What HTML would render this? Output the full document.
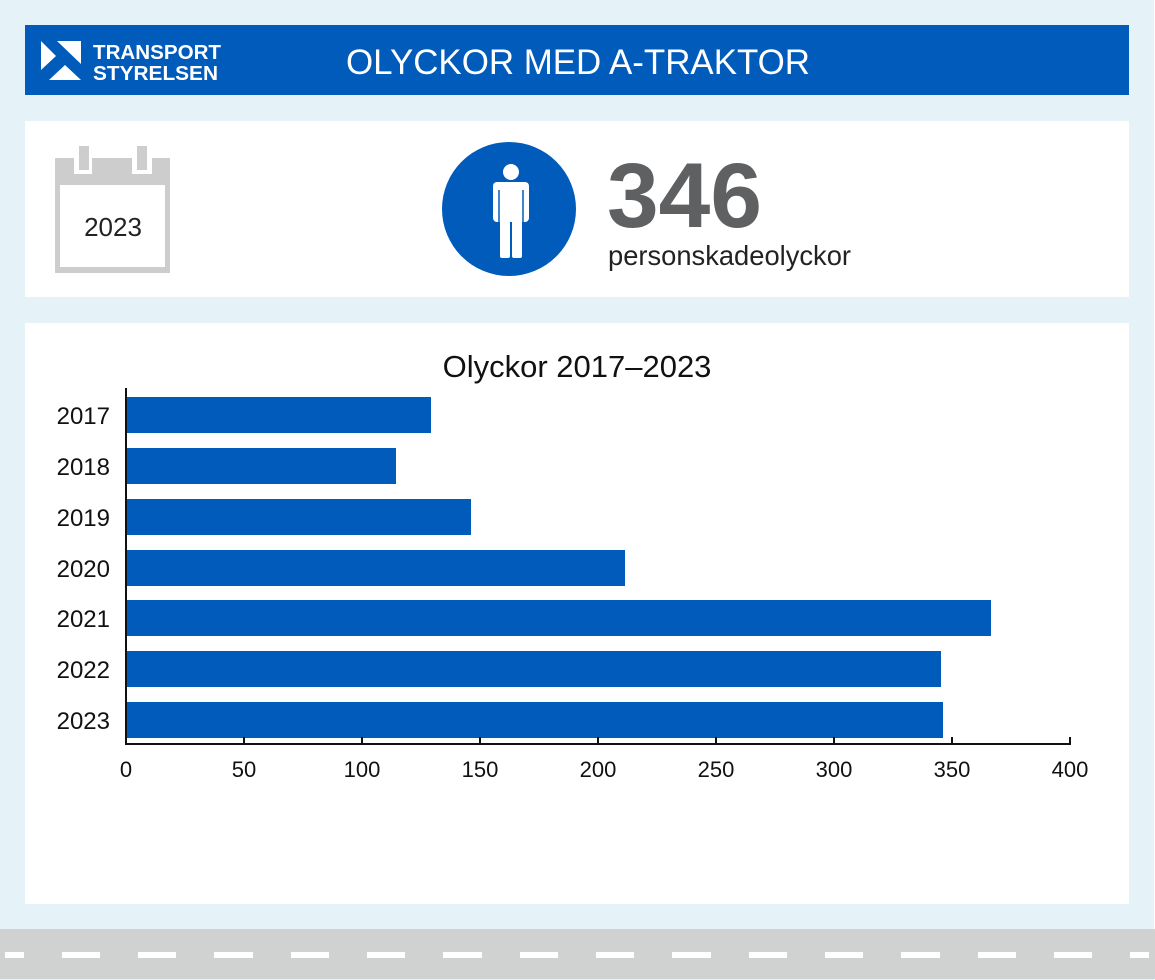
<!DOCTYPE html>
<html><head><meta charset="utf-8"><style>
html,body{margin:0;padding:0;background:#fff}
svg{display:block}
text{font-family:"Liberation Sans",sans-serif}
</style></head><body>
<svg width="1155" height="980" xmlns="http://www.w3.org/2000/svg">
<rect x="0" y="0" width="1154" height="980" fill="#e5f2f8"/>
<rect x="25" y="25" width="1104" height="70" fill="#005bbb"/>
<polygon points="41,41 41,70 56,56" fill="#fff"/>
<polygon points="57,41 81,41 81,64" fill="#fff"/>
<polygon points="49,80 81,80 65,65" fill="#fff"/>
<text x="93" y="59" font-size="20" font-weight="bold" fill="#fff" textLength="128" lengthAdjust="spacingAndGlyphs">TRANSPORT</text>
<text x="93" y="80" font-size="20" font-weight="bold" fill="#fff" textLength="125" lengthAdjust="spacingAndGlyphs">STYRELSEN</text>
<text x="346" y="74" font-size="35" fill="#fff" textLength="464" lengthAdjust="spacingAndGlyphs">OLYCKOR MED A-TRAKTOR</text>
<rect x="25" y="121" width="1104" height="176" fill="#fff"/>
<rect x="55" y="158" width="115" height="115" fill="#cdcdcd"/>
<rect x="60" y="185" width="105" height="82" fill="#fff"/>
<rect x="74" y="146" width="18" height="28" fill="#fff"/>
<rect x="79" y="146" width="10" height="24" fill="#cdcdcd"/>
<rect x="132" y="146" width="20" height="28" fill="#fff"/>
<rect x="137" y="146" width="10" height="24" fill="#cdcdcd"/>
<text x="113" y="236" font-size="26" fill="#222" text-anchor="middle">2023</text>
<circle cx="509" cy="209" r="67" fill="#005bbb"/>
<circle cx="511" cy="172" r="8" fill="#fff"/>
<rect x="493" y="182" width="36" height="40" rx="4" fill="#fff"/>
<rect x="500" y="210" width="10" height="48" rx="2" fill="#fff"/>
<rect x="512" y="210" width="10" height="48" rx="2" fill="#fff"/>
<line x1="499" y1="190" x2="499" y2="222" stroke="#005bbb" stroke-width="1.5"/>
<line x1="523" y1="190" x2="523" y2="222" stroke="#005bbb" stroke-width="1.5"/>
<text x="607" y="227" font-size="92" font-weight="bold" fill="#5f6062" textLength="155" lengthAdjust="spacingAndGlyphs">346</text>
<text x="608" y="265" font-size="28" fill="#222" textLength="243" lengthAdjust="spacingAndGlyphs">personskadeolyckor</text>
<rect x="25" y="323" width="1104" height="581" fill="#fff"/>
<text x="577" y="377" font-size="31" fill="#111" text-anchor="middle">Olyckor 2017–2023</text>
<g fill="#005bbb">
<rect x="127" y="397" width="304" height="36"/>
<rect x="127" y="448" width="269" height="36"/>
<rect x="127" y="499" width="344" height="36"/>
<rect x="127" y="550" width="498" height="36"/>
<rect x="127" y="600" width="864" height="36"/>
<rect x="127" y="651" width="814" height="36"/>
<rect x="127" y="702" width="816" height="36"/>
</g>
<g font-size="24" fill="#111" text-anchor="end">
<text x="110" y="424">2017</text><text x="110" y="475">2018</text><text x="110" y="526">2019</text>
<text x="110" y="577">2020</text><text x="110" y="627">2021</text><text x="110" y="678">2022</text><text x="110" y="729">2023</text>
</g>
<line x1="126" y1="388" x2="126" y2="745" stroke="#111" stroke-width="2"/>
<line x1="125" y1="744" x2="1071" y2="744" stroke="#111" stroke-width="2"/>
<g stroke="#111" stroke-width="2">
<line x1="244" y1="737" x2="244" y2="744"/><line x1="362" y1="737" x2="362" y2="744"/>
<line x1="480" y1="737" x2="480" y2="744"/><line x1="598" y1="737" x2="598" y2="744"/>
<line x1="716" y1="737" x2="716" y2="744"/><line x1="834" y1="737" x2="834" y2="744"/>
<line x1="952" y1="737" x2="952" y2="744"/><line x1="1070" y1="737" x2="1070" y2="744"/>
</g>
<g font-size="22" fill="#111" text-anchor="middle">
<text x="126" y="777">0</text><text x="244" y="777">50</text><text x="362" y="777">100</text>
<text x="480" y="777">150</text><text x="598" y="777">200</text><text x="716" y="777">250</text>
<text x="834" y="777">300</text><text x="952" y="777">350</text><text x="1070" y="777">400</text>
</g>
<rect x="0" y="929" width="1155" height="50" fill="#d0d1d1"/>
<g fill="#fff">
<rect x="5" y="952" width="19" height="6"/>
<rect x="62" y="952" width="38" height="6"/><rect x="138" y="952" width="38" height="6"/>
<rect x="214" y="952" width="39" height="6"/><rect x="291" y="952" width="38" height="6"/>
<rect x="367" y="952" width="38" height="6"/><rect x="443" y="952" width="39" height="6"/>
<rect x="520" y="952" width="38" height="6"/><rect x="596" y="952" width="38" height="6"/>
<rect x="672" y="952" width="39" height="6"/><rect x="749" y="952" width="38" height="6"/>
<rect x="825" y="952" width="38" height="6"/><rect x="901" y="952" width="39" height="6"/>
<rect x="978" y="952" width="38" height="6"/><rect x="1054" y="952" width="38" height="6"/>
<rect x="1130" y="952" width="19" height="6"/>
</g>
</svg>
</body></html>
